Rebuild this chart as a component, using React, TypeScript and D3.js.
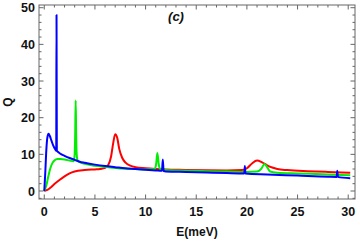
import React from "react";
import * as d3 from "d3";

const redE = [0, 0.3, 0.6, 1.0, 1.5, 2.0, 2.5, 3.0, 4.0, 5.0, 5.5, 6.0, 6.3, 6.6, 6.8, 7.0, 7.2, 7.4, 7.7, 8.0, 8.5, 9.0, 10, 11, 12, 14, 16, 18, 19.5, 20.0, 20.5, 21.0, 21.5, 22, 22.5, 23, 24, 26, 28, 30.2];
const redQ = [0, 0.3, 0.9, 1.9, 3.0, 4.0, 4.8, 5.3, 5.7, 5.9, 6.0, 6.3, 7.0, 9.5, 13, 15.5, 14.5, 11.5, 9.0, 7.8, 6.9, 6.5, 6.2, 6.0, 5.85, 5.75, 5.65, 5.6, 5.7, 6.2, 7.5, 8.3, 7.8, 7.0, 6.4, 6.0, 5.7, 5.4, 5.2, 5.0];

const greenE = [0, 0.2, 0.4, 0.6, 0.8, 1.0, 1.3, 1.6, 2.0, 2.5, 2.9, 3.0, 3.05, 3.1, 3.15, 3.2, 3.3, 3.5, 4.0, 5.0, 6.0, 7.0, 8.0, 9.0, 10.0, 10.9, 11.05, 11.16, 11.3, 11.45, 12, 14, 16, 18, 20, 21, 21.4, 21.75, 22.0, 22.3, 23, 25, 28, 30.2];
const greenQ = [0, 1.5, 4.0, 6.2, 7.6, 8.3, 8.7, 8.7, 8.6, 8.3, 8.1, 10, 15, 24.7, 15, 10, 8.3, 7.9, 7.4, 6.9, 6.6, 6.3, 6.1, 6.0, 5.9, 6.0, 7.5, 10.4, 7.3, 5.9, 5.75, 5.55, 5.4, 5.3, 5.2, 5.3, 6.0, 7.4, 6.5, 5.3, 5.0, 4.8, 4.5, 4.3];

const blueE = [0, 0.1, 0.2, 0.3, 0.42, 0.55, 0.7, 0.9, 1.1, 1.18, 1.21, 1.24, 1.4, 1.7, 2.0, 2.5, 3.0, 3.5, 4.0, 5.0, 6.0, 7.0, 8.0, 9.0, 10, 11, 11.62, 11.7, 11.78, 12, 14, 16, 18, 19.74, 19.8, 19.86, 22, 25, 28, 28.86, 28.92, 28.98, 30.2];
const blueQ = [0, 5, 11, 14.5, 15.6, 15.0, 13.8, 12.3, 11.3, 11.0, 48, 11.0, 10.6, 10.0, 9.6, 9.0, 8.5, 8.0, 7.7, 7.2, 6.8, 6.5, 6.2, 6.0, 5.8, 5.6, 5.5, 8.6, 5.45, 5.35, 5.2, 5.05, 4.9, 4.8, 6.8, 4.75, 4.5, 4.2, 3.9, 3.85, 5.5, 3.85, 3.5];

const xMajor = [0, 5, 10, 15, 20, 25, 30];
const yMajor = [0, 10, 20, 30, 40, 50];

const W = 360, H = 241;
const L = 39, R = 355, T = 5, B = 199;

export default function App() {
  const x = d3.scaleLinear().domain([-0.52, 30.67]).range([L, R]);
  const y = d3.scaleLinear().domain([-2.18, 50.74]).range([B, T]);
  const line = d3
    .line<[number, number]>()
    .x((d) => x(d[0]))
    .y((d) => y(d[1]))
    .curve(d3.curveMonotoneX);
  const series = [
    { e: redE, q: redQ, c: "#ff0000" },
    { e: greenE, q: greenQ, c: "#00ee00" },
    { e: blueE, q: blueQ, c: "#0000ff" },
  ];
  const xMinor = d3.range(0, 31, 1).filter((v) => v % 5 !== 0);
  const yMinor = d3.range(-2, 51, 2).filter((v) => v % 10 !== 0);
  const tc = "#666";
  const font = "'Liberation Sans', Arial, sans-serif";
  return (
    <svg width={W} height={H} style={{ position: "absolute", left: 0, top: 0 }}>
      <rect x={0} y={0} width={W} height={H} fill="#fff" />
      <defs>
        <clipPath id="clip">
          <rect x={L} y={T} width={R - L} height={B - T} />
        </clipPath>
      </defs>
      <g clipPath="url(#clip)">
        {series.map((s, i) => (
          <path
            key={i}
            d={line(s.e.map((v, j) => [v, s.q[j]] as [number, number])) || ""}
            fill="none"
            stroke={s.c}
            strokeWidth={2}
            strokeLinejoin="round"
          />
        ))}
      </g>
      <g stroke={tc} strokeWidth={1}>
        {xMajor.map((v) => (
          <g key={"xm" + v}>
            <line x1={x(v)} x2={x(v)} y1={B} y2={B - 4.5} />
            <line x1={x(v)} x2={x(v)} y1={T} y2={T + 4.5} />
          </g>
        ))}
        {xMinor.map((v) => (
          <g key={"xn" + v}>
            <line x1={x(v)} x2={x(v)} y1={B} y2={B - 2.5} />
            <line x1={x(v)} x2={x(v)} y1={T} y2={T + 2.5} />
          </g>
        ))}
        {yMajor.map((v) => (
          <g key={"ym" + v}>
            <line x1={L} x2={L + 4.5} y1={y(v)} y2={y(v)} />
            <line x1={R} x2={R - 4.5} y1={y(v)} y2={y(v)} />
          </g>
        ))}
        {yMinor.map((v) => (
          <g key={"yn" + v}>
            <line x1={L} x2={L + 2.5} y1={y(v)} y2={y(v)} />
            <line x1={R} x2={R - 2.5} y1={y(v)} y2={y(v)} />
          </g>
        ))}
        <rect x={L} y={T} width={R - L} height={B - T} fill="none" />
      </g>
      <g fontFamily={font} fontWeight="bold" fontSize={12.5} fill="#111">
        {xMajor.map((v) => (
          <text key={"xl" + v} x={x(v)} y={216} textAnchor="middle">
            {v}
          </text>
        ))}
        {yMajor.map((v) => (
          <text key={"yl" + v} x={35} y={y(v) + 4.5} textAnchor="end">
            {v}
          </text>
        ))}
        <text x={197} y={236} textAnchor="middle" fontSize={12}>
          E(meV)
        </text>
        <text
          transform={`translate(12,102) rotate(-90)`}
          textAnchor="middle"
          fontSize={12}
        >
          Q
        </text>
        <text x={176} y={21} textAnchor="middle" fontStyle="italic" fontSize={13}>
          (c)
        </text>
      </g>
    </svg>
  );
}
